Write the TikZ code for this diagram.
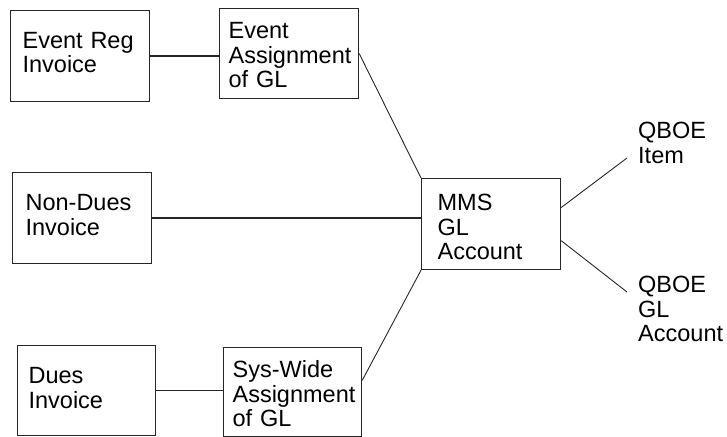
\documentclass[tikz,border=0pt]{standalone}
\usepackage{fontspec}
\setmainfont{Liberation Sans}
\usetikzlibrary{calc}
\begin{document}
\begin{tikzpicture}[x=1bp,y=-1bp,
  every node/.style={font=\fontsize{23.5bp}{24.5bp}\selectfont, execute at begin node={\hyphenpenalty=10000\hfuzz=20pt}},
  boxnode/.style n args={4}{draw=black!85, line width=1.2bp, rectangle, anchor=north west,
     align=left, inner ysep=0pt, inner xsep=#3, minimum width=#1, minimum height=#2,
     text width=#1-2*#3, text height=17bp, text depth=#4},
  plainlabel/.style={anchor=north west, align=left, inner sep=0pt},
  link/.style={draw=black!85, line width=1.2bp},
  thinlink/.style={draw=black!85, line width=0.9bp}]
\useasboundingbox (0,0) rectangle (727,437);
% boxes
\node[boxnode={139bp}{91bp}{12bp}{33bp}] (er) at (10,10) {Event Reg\\Invoice};
\node[boxnode={139bp}{90bp}{9bp}{47bp}] (ea) at (219,8) {Event\\Assignment\\of GL};
\node[boxnode={139bp}{91bp}{13bp}{32bp}] (nd) at (12,172) {Non-Dues\\Invoice};
\node[boxnode={138bp}{90bp}{11bp}{31bp}] (du) at (17,345) {Dues\\Invoice};
\node[boxnode={138bp}{89bp}{9bp}{46bp}] (sw) at (223,347) {Sys-Wide\\Assignment\\of GL};
\node[boxnode={139bp}{91bp}{16bp}{44bp}] (mms) at (421,178) {MMS\\GL\\Account};
% free labels
\node[plainlabel] (qi) at (638,122) {QBOE\\Item};
\node[plainlabel] (qg) at (638,276) {QBOE\\GL\\Account};
\coordinate (qiend) at (627,158);
\coordinate (qgend) at (627,292);
% connectors
\draw[link] (er.east) -- (er.east -| ea.west);
\draw[thinlink] (ea.east) -- (mms.north west);
\draw[link] (nd.east) -- (nd.east -| mms.west);
\draw[link] (du.east) -- (du.east -| sw.west);
\draw[thinlink] ($(sw.north east)!0.37!(sw.south east)$) -- (mms.south west);
\draw[thinlink] ($(mms.north east)!0.32!(mms.south east)$) -- (qiend);
\draw[thinlink] ($(mms.north east)!0.68!(mms.south east)$) -- (qgend);
\end{tikzpicture}
\end{document}
